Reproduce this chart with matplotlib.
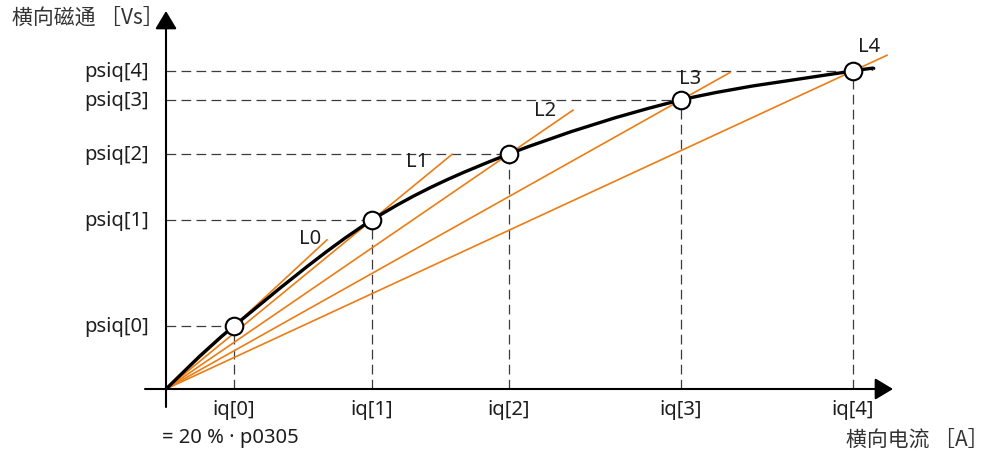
import numpy as np
import matplotlib
matplotlib.use('Agg')
import matplotlib.pyplot as plt
from matplotlib.path import Path
from matplotlib.patches import PathPatch

plt.rcParams['font.family'] = ['Noto Sans', 'Noto Sans CJK SC', 'DejaVu Sans']
plt.rcParams['lines.scale_dashes'] = False

# data (arbitrary units)
iq = [68, 206, 343, 515, 687]
psiq = [63, 169, 235, 289, 318]
iq_labels = ['iq[0]', 'iq[1]', 'iq[2]', 'iq[3]', 'iq[4]']
psiq_labels = ['psiq[0]', 'psiq[1]', 'psiq[2]', 'psiq[3]', 'psiq[4]']
line_labels = ['L0', 'L1', 'L2', 'L3', 'L4']
line_ends = [161, 286, 407, 564, 721]   # x where each secant line stops
curve_end = (707, 320)

orange = '#ec7c14'
dash_col = '#3c3c3c'
txt_col = '#1e1e1e'

fig = plt.figure(figsize=(9.91, 4.52), dpi=100)
ax = fig.add_axes([0, 0, 1, 1])
ax.set_xlim(-166, 991 - 166)
ax.set_ylim(390 - 452, 390)
ax.axis('off')

# dashed guides
for x, y in zip(iq, psiq):
    ax.plot([0, x], [y, y], color=dash_col, lw=0.9, dashes=(7, 3.8), zorder=1)
    ax.plot([x, x], [0, y], color=dash_col, lw=0.9, dashes=(7, 3.8), zorder=1)

# secant lines from origin
for x, y, xe in zip(iq, psiq, line_ends):
    ax.plot([0, xe], [0, xe * y / x], color=orange, lw=1.2, zorder=2)

# smooth characteristic (catmull-rom as bezier path)
pts = np.array([(0, 0)] + list(zip(iq, psiq)) + [curve_end], dtype=float)
verts = [tuple(pts[0])]
codes = [Path.MOVETO]
n = len(pts)
for i in range(n - 1):
    p_prev = pts[max(i - 1, 0)]
    p0, p1 = pts[i], pts[i + 1]
    p_next = pts[min(i + 2, n - 1)]
    c1 = p0 + (p1 - p_prev) / 6
    c2 = p1 - (p_next - p0) / 6
    verts += [tuple(c1), tuple(c2), tuple(p1)]
    codes += [Path.CURVE4] * 3
ax.add_patch(PathPatch(Path(verts, codes), fill=False, lw=2.4, ec='black', zorder=3,
                       capstyle='butt', joinstyle='round'))

ax.scatter(iq, psiq, s=160, facecolor='white', edgecolor='black', linewidths=1.5, zorder=4)

# axes with arrows
arr = dict(arrowstyle='-|>,head_length=0.55,head_width=0.33', mutation_scale=20,
           lw=1.5, color='black', shrinkA=0, shrinkB=0)
ax.annotate('', xy=(727, 0), xytext=(-21, 0), arrowprops=arr, zorder=5)
ax.annotate('', xy=(0, 378), xytext=(0, -18), arrowprops=arr, zorder=5)

fs = 14.5
for x, lab in zip(iq, iq_labels):
    ax.text(x, -20, lab, ha='center', va='center', fontsize=fs, color=txt_col)
for y, lab in zip(psiq, psiq_labels):
    ax.text(-17, y, lab, ha='right', va='center', fontsize=fs, color=txt_col)

label_pos = [(144, 151), (251, 228), (379, 279), (524, 311), (703, 343)]
for (x, y), lab in zip(label_pos, line_labels):
    ax.text(x, y, lab, ha='center', va='center', fontsize=fs, color=txt_col)

ax.text(-4, -48, '= 20 % · p0305', ha='left', va='center', fontsize=fs, color=txt_col)
ax.text(-154, 372, '横向磁通 ［Vs］', ha='left', va='center', fontsize=15,
        color='#333333', family=['Noto Sans CJK SC', 'DejaVu Sans'])
ax.text(823, -50, '横向电流 ［A］', ha='right', va='center', fontsize=15,
        color='#333333', family=['Noto Sans CJK SC', 'DejaVu Sans'])

fig.savefig('out.png', dpi=100)
